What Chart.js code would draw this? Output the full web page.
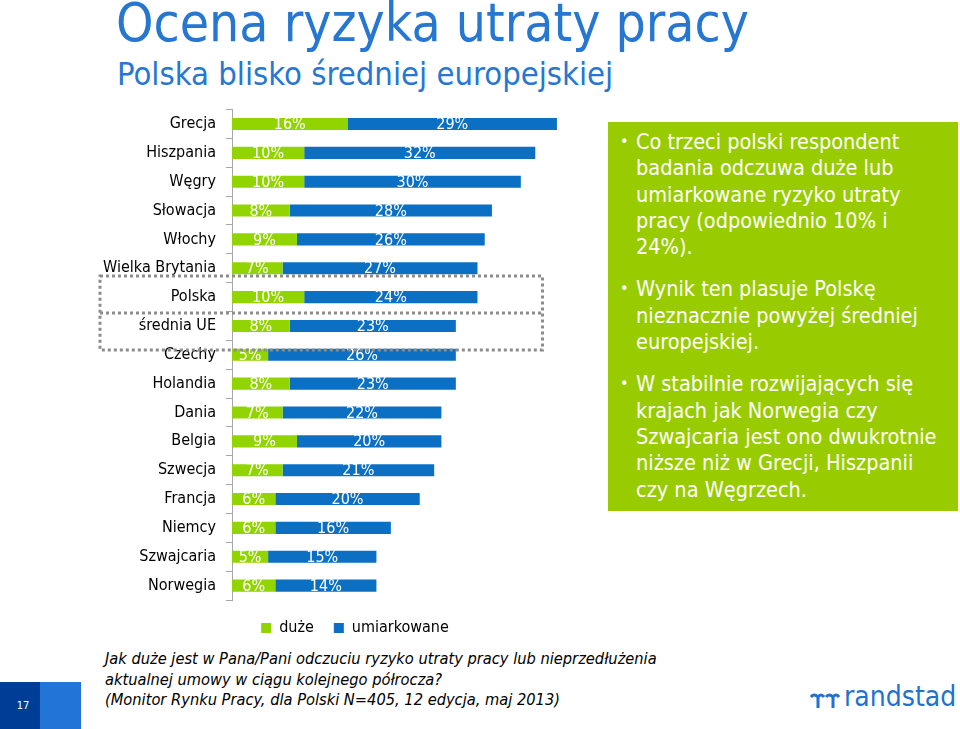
<!DOCTYPE html>
<html>
<head>
<meta charset="utf-8">
<script src="https://cdn.jsdelivr.net/npm/chart.js@4.4.0/dist/chart.umd.min.js"></script>
<style>
  body { margin: 0; width: 960px; height: 729px; background: #fff; position: relative; overflow: hidden;
         font-family: "DejaVu Sans Condensed", "DejaVu Sans", sans-serif; }
  #title { position: absolute; left: 116px; top: -8px; font-size: 53px; color: #2677d2; white-space: nowrap; }
  #subtitle { position: absolute; left: 117px; top: 55px; font-size: 32.5px; color: #2677d2; white-space: nowrap; }
  #wrap { position: absolute; left: 0; top: 90px; width: 710px; height: 556px; }
  #box { position: absolute; left: 608px; top: 122px; width: 350px; height: 389px; background: #99cc00;
         color: #fff; font-size: 21.5px; line-height: 26.3px; box-sizing: border-box; padding: 7px 4px 0 28px; white-space: nowrap; }
  #box p { margin: 0 0 16px 0; position: relative; }
  #box p::before { content: "•"; position: absolute; left: -16px; font-size: 16px; }
  #note { position: absolute; left: 105px; top: 649px; font-size: 16.3px; font-style: italic; line-height: 20.5px; color: #000; white-space: nowrap; }
  #pg1 { position: absolute; left: 0; top: 682px; width: 40px; height: 47px; background: #003d96; color: #fff;
         font-size: 11px; text-align: center; line-height: 47px; padding-left: 6px; box-sizing: border-box; }
  #pg2 { position: absolute; left: 40px; top: 682px; width: 41px; height: 47px; background: #2275d6; }
  #logo { position: absolute; left: 810px; top: 680px; color: #1f72cf; font-size: 28px; white-space: nowrap; }
  #logo svg { vertical-align: -2px; margin-right: 4px; }
</style>
</head>
<body>
<div id="title">Ocena ryzyka utraty pracy</div>
<div id="subtitle">Polska blisko średniej europejskiej</div>
<div id="wrap"><canvas id="riskChart"></canvas></div>
<div id="box">
  <p>Co trzeci polski respondent<br>badania odczuwa duże lub<br>umiarkowane ryzyko utraty<br>pracy (odpowiednio 10% i<br>24%).</p>
  <p>Wynik ten plasuje Polskę<br>nieznacznie powyżej średniej<br>europejskiej.</p>
  <p>W stabilnie rozwijających się<br>krajach jak Norwegia czy<br>Szwajcaria jest ono dwukrotnie<br>niższe niż w Grecji, Hiszpanii<br>czy na Węgrzech.</p>
</div>
<div id="note">Jak duże jest w Pana/Pani odczuciu ryzyko utraty pracy lub nieprzedłużenia<br>aktualnej umowy w ciągu kolejnego półrocza?<br>(Monitor Rynku Pracy, dla Polski N=405, 12 edycja, maj 2013)</div>
<div id="pg1">17</div><div id="pg2"></div>
<div id="logo"><svg width="30" height="16" viewBox="0 0 30 16"><path d="M1 5 Q4 1 8 5 L8 16 M8 5 Q11 1 14 5" stroke="#1f72cf" stroke-width="3" fill="none"/><path d="M16 5 Q19 1 23 5 L23 16 M23 5 Q26 1 29 5" stroke="#1f72cf" stroke-width="3" fill="none"/></svg>randstad</div>

<script>
const countries = ["Grecja", "Hiszpania", "Węgry", "Słowacja", "Włochy", "Wielka Brytania", "Polska",
    "średnia UE", "Czechy", "Holandia", "Dania", "Belgia", "Szwecja", "Francja", "Niemcy",
    "Szwajcaria", "Norwegia"];
const high = [16, 10, 10, 8, 9, 7, 10, 8, 5, 8, 7, 9, 7, 6, 6, 5, 6];
const moderate = [29, 32, 30, 28, 26, 27, 24, 23, 26, 23, 22, 20, 21, 20, 16, 15, 14];

// white labels in the middle of each segment
const segmentLabels = {
    id: "segmentLabels",
    afterDatasetsDraw(chart) {
        const ctx = chart.ctx;
        ctx.save();
        ctx.fillStyle = "#fff";
        ctx.font = "16px 'DejaVu Sans Condensed', 'DejaVu Sans'";
        ctx.textAlign = "center";
        ctx.textBaseline = "middle";
        chart.data.datasets.forEach((ds, i) => {
            chart.getDatasetMeta(i).data.forEach((bar, j) => {
                const mid = (bar.x + bar.base) / 2;
                ctx.fillText(ds.data[j] + "%", mid, bar.y + 1);
            });
        });
        ctx.restore();
    }
};

// dotted frame round Polska and średnia UE
const dottedFrame = {
    id: "dottedFrame",
    afterDraw(chart) {
        const y = chart.scales.y, x = chart.scales.x;
        const step = y.getPixelForValue(1) - y.getPixelForValue(0);
        const top = y.getPixelForValue(6) - 0.73 * step;
        const mid = y.getPixelForValue(7) - 0.45 * step;
        const bottom = y.getPixelForValue(7) + 0.83 * step;
        const left = 100, right = x.getPixelForValue(43);
        const ctx = chart.ctx;
        ctx.save();
        ctx.strokeStyle = "#8c8c8c";
        ctx.lineWidth = 3;
        ctx.setLineDash([3, 3]);
        ctx.strokeRect(left, top, right - left, bottom - top);
        ctx.beginPath();
        ctx.moveTo(left, mid);
        ctx.lineTo(right, mid);
        ctx.stroke();
        ctx.restore();
    }
};

new Chart(document.getElementById("riskChart"), {
    type: "bar",
    data: {
        labels: countries,
        datasets: [{
            label: "duże",
            data: high,
            backgroundColor: "#92d400",
            barPercentage: 0.42,
            categoryPercentage: 1
        }, {
            label: "umiarkowane",
            data: moderate,
            backgroundColor: "#0b6fc3",
            barPercentage: 0.42,
            categoryPercentage: 1
        }]
    },
    options: {
        indexAxis: "y",
        responsive: true,
        maintainAspectRatio: false,
        animation: false,
        layout: { padding: { top: 8, right: 0, left: 0, bottom: 0 } },
        scales: {
            x: { stacked: true, display: false, min: 0, max: 66.2 },
            y: {
                stacked: true,
                afterFit: s => { s.width = 232; },
                grid: { drawOnChartArea: false, tickLength: 6, color: "#a6a6a6" },
                border: { color: "#a6a6a6" },
                ticks: { color: "#000", padding: 10, font: { size: 16, family: "'DejaVu Sans Condensed', 'DejaVu Sans'" } }
            }
        },
        plugins: {
            legend: {
                position: "bottom",
                labels: { boxWidth: 10, boxHeight: 10, color: "#000", padding: 20,
                    font: { size: 16, family: "'DejaVu Sans Condensed', 'DejaVu Sans'" } }
            },
            tooltip: { enabled: false }
        }
    },
    plugins: [segmentLabels, dottedFrame]
});
</script>
</body>
</html>
